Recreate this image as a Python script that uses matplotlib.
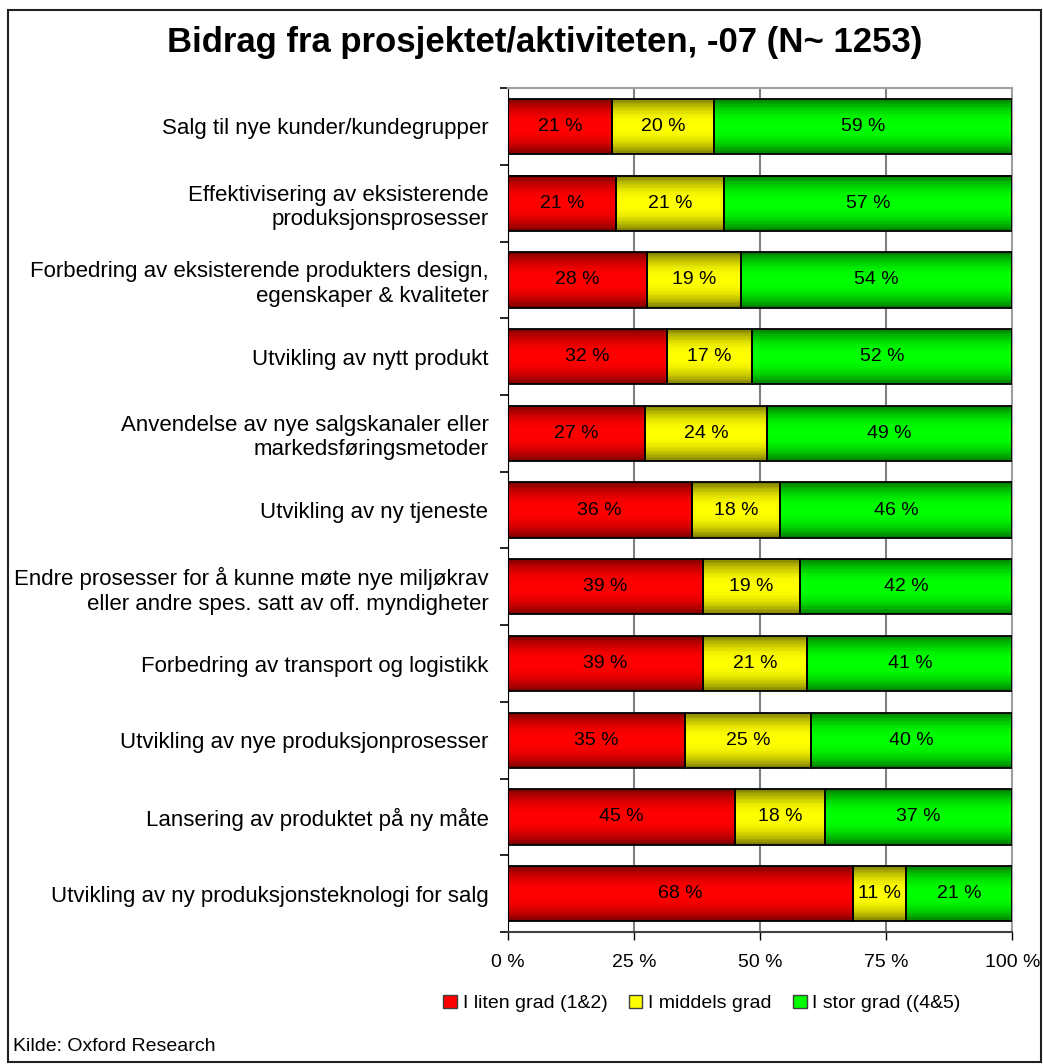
import numpy as np
import matplotlib
matplotlib.use("Agg")
import matplotlib.pyplot as plt
from matplotlib.colors import LinearSegmentedColormap
from matplotlib.patches import Patch, Rectangle

plt.rcParams['font.family'] = ['Liberation Sans', 'DejaVu Sans']

# data (share of answers, %)
categories = [
    "Salg til nye kunder/kundegrupper",
    "Effektivisering av eksisterende\nproduksjonsprosesser",
    "Forbedring av eksisterende produkters design,\negenskaper & kvaliteter",
    "Utvikling av nytt produkt",
    "Anvendelse av nye salgskanaler eller\nmarkedsføringsmetoder",
    "Utvikling av ny tjeneste",
    "Endre prosesser for å kunne møte nye miljøkrav\neller andre spes. satt av off. myndigheter",
    "Forbedring av transport og logistikk",
    "Utvikling av nye produksjonprosesser",
    "Lansering av produktet på ny måte",
    "Utvikling av ny produksjonsteknologi for salg",
]
liten = [20.6, 21.4, 27.6, 31.6, 27.2, 36.4, 38.7, 38.6, 35.1, 45.0, 68.4]
middels = [20.3, 21.4, 18.6, 16.7, 24.2, 17.6, 19.2, 20.8, 25.0, 17.9, 10.6]
stor = [59.1, 57.1, 53.8, 51.7, 48.6, 46.0, 42.1, 40.6, 39.9, 37.1, 21.0]
series_names = ["I liten grad (1&2)", "I middels grad", "I stor grad ((4&5)"]
xticks = [0, 25, 50, 75, 100]

bright = ["#ff0000", "#ffff00", "#00ff00"]
dark = ["#780000", "#787800", "#007800"]

fig = plt.figure(figsize=(10.43, 10.64), dpi=100)
ax = fig.add_axes([0.487, 0.124, 0.4835, 0.7932])

y = np.arange(len(categories))
h = 0.72
n = 40  # thin strips per bar for the top/bottom shading
left = np.zeros(len(categories))

for vals, c1, c2 in zip([liten, middels, stor], bright, dark):
    cmap = LinearSegmentedColormap.from_list("g", [c2, c1])
    for k in range(n):
        tk = (k + 0.5) / n
        shade = 1 - abs(2 * tk - 1) ** 2.2
        ax.barh(y - h / 2 + tk * h, vals, left=left, height=h / n * 1.1,
                color=cmap(shade), linewidth=0, zorder=2)
    bars = ax.barh(y, vals, left=left, height=h, color="none",
                   edgecolor="black", linewidth=1.3, zorder=3)
    for b, v in zip(bars, vals):
        ax.text(b.get_x() + b.get_width() / 2, b.get_y() + h / 2, f"{v:.0f} %",
                ha="center", va="center", fontsize=14, color="black", zorder=4)
    left = left + np.array(vals)

ax.set_xlim(0, 100)
ax.set_ylim(len(categories) - 0.5, -0.5)
ax.set_xticks(xticks)
ax.set_xticklabels([f"{t} %" for t in xticks], fontsize=14)
ax.set_yticks(y)
ax.set_yticklabels(categories, fontsize=16, linespacing=1.22)
ax.tick_params(axis="y", length=0, pad=14)
ax.set_yticks(np.arange(-0.5, len(categories), 1), minor=True)
ax.tick_params(axis="y", which="minor", length=6, width=1.2, direction="out")
ax.tick_params(axis="x", length=6, width=1, direction="out", pad=10)
ax.xaxis.grid(True, color="#808080", linewidth=1.5, zorder=0)
ax.set_axisbelow(True)
for s in ["top", "right"]:
    ax.spines[s].set_color("#a0a0a0")
    ax.spines[s].set_linewidth(1.5)
ax.spines["left"].set_color("black")
ax.spines["bottom"].set_color("#404040")
ax.spines["bottom"].set_linewidth(1.5)

fig.text(0.522, 0.96, "Bidrag fra prosjektet/aktiviteten, -07 (N~ 1253)",
         ha="center", va="center", fontsize=25, fontweight="bold")

handles = [Patch(facecolor=c, edgecolor="#404040", linewidth=1) for c in bright]
fig.legend(handles, series_names, loc="center", bbox_to_anchor=(0.673, 0.057),
           ncol=3, frameon=False, fontsize=14, handlelength=0.7, handleheight=0.7,
           handletextpad=0.3, columnspacing=1.1)

fig.text(0.012, 0.016, "Kilde: Oxford Research", ha="left", va="center", fontsize=14)

fig.add_artist(Rectangle((0.008, 0.002), 0.99, 0.989, transform=fig.transFigure,
                         fill=False, edgecolor="#202020", linewidth=1.5))

fig.savefig("out.png", dpi=100)
